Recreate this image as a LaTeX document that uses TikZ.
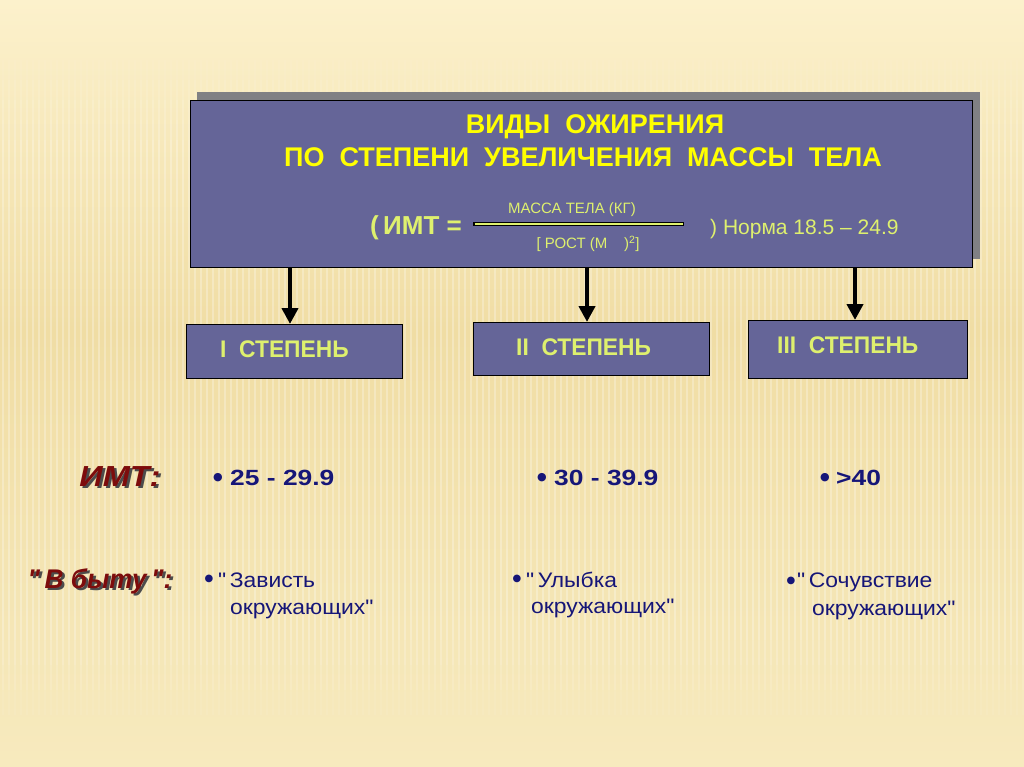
\documentclass[tikz,border=0pt]{standalone}
\usepackage{fontspec}
\setmainfont{Liberation Sans}
\newfontfamily\degfont{Liberation Sans}[FakeStretch=0.95]
\newfontfamily\valfont{Liberation Sans}[FakeStretch=1.2]
\newfontfamily\notefont{Liberation Sans}[FakeStretch=1.09]
\newfontfamily\imtfont{Liberation Sans}[FakeStretch=1.12]
\newfontfamily\bytfont{Liberation Sans}[FakeStretch=0.97]
\newfontfamily\symfont{DejaVu Sans}
\usetikzlibrary{arrows.meta}
\definecolor{bgtop}{RGB}{252,241,204}
\definecolor{bgmid}{RGB}{240,221,164}
\definecolor{bgbot}{RGB}{247,234,190}
\definecolor{boxfill}{RGB}{101,101,152}
\definecolor{shadowgray}{RGB}{128,128,132}
\definecolor{ttl}{RGB}{255,255,0}
\definecolor{lg}{RGB}{222,240,110}
\definecolor{dred}{RGB}{125,12,12}
\definecolor{navy}{RGB}{22,22,120}
\newcommand{\shadowtext}[1]{\makebox[0pt][l]{\hspace{2.5pt}\raisebox{-2pt}{\color{black!70}#1}}\color{dred}#1}
\tikzset{
  panel/.style={draw=black, line width=0.8pt, fill=boxfill, inner sep=0pt},
  degree/.style={font=\degfont\bfseries\fontsize{24}{27}\selectfont, text=lg, anchor=west, inner sep=0pt},
  arr/.style={line width=4.5pt, -{Triangle[length=16pt,width=16pt]}},
  bul/.style={font=\symfont\fontsize{11}{12}\selectfont, text=navy, inner sep=0pt},
  val/.style={font=\valfont\bfseries\fontsize{22}{26}\selectfont, text=navy, anchor=west, inner sep=0pt},
  note/.style={font=\notefont\fontsize{21}{24}\selectfont, text=navy, anchor=west, inner sep=0pt},
  ttlstyle/.style={font=\bfseries\fontsize{27}{30}\selectfont, text=ttl, inner sep=0pt}
}
\begin{document}
\begin{tikzpicture}[x=1pt,y=-1pt]
\useasboundingbox (0,0) rectangle (1024,767);
% background
\shade[top color=bgtop, bottom color=bgmid] (0,0) rectangle (1024,330);
\shade[top color=bgmid, bottom color=bgbot] (0,330) rectangle (1024,767);
\foreach \ya/\yb/\op in {60/80/0.05, 80/100/0.1, 100/120/0.16, 120/140/0.22, 140/640/0.27, 640/665/0.2, 665/690/0.13, 690/715/0.06} {
  \foreach \x in {3,9,...,1024} {\draw[white, opacity=\op, line width=2.2pt] (\x,\ya) -- (\x,\yb);}
}
% main panel
\fill[shadowgray] (197,92) rectangle (980,259);
\node[panel, minimum width=782pt, minimum height=167pt, anchor=north west] (main) at (190,100) {};
\node[ttlstyle] (t1) at (595,127) {ВИДЫ\ \ ОЖИРЕНИЯ};
\node[ttlstyle] (t2) at (583,157) {ПО\ \ СТЕПЕНИ\ \ УВЕЛИЧЕНИЯ\ \ МАССЫ\ \ ТЕЛА};
% formula
\node[font=\bfseries\fontsize{26}{28}\selectfont, text=lg, anchor=west, inner sep=0pt] (imt) at (370,228) {(\,ИМТ =};
\draw[black, line width=4pt] (473,224) -- (684,224);
\draw[lg, line width=1.6pt] (474.5,224) -- (682.5,224);
\node[font=\fontsize{15}{17}\selectfont, text=lg, inner sep=0pt] (num) at (572,210) {МАССА ТЕЛА (КГ)};
\node[font=\fontsize{15}{17}\selectfont, text=lg, inner sep=0pt] (den) at (588,244) {[ РОСТ (М\ \ \ \ )\textsuperscript{2}]};
\node[font=\fontsize{21}{24}\selectfont, text=lg, anchor=west, inner sep=0pt] (norm) at (710,229) {)\ Норма 18.5 – 24.9};
% degree boxes
\node[panel, minimum width=216pt, minimum height=54pt, anchor=north west] (b1) at (186,324) {};
\node[panel, minimum width=236pt, minimum height=53pt, anchor=north west] (b2) at (473,322) {};
\node[panel, minimum width=219pt, minimum height=58pt, anchor=north west] (b3) at (748,320) {};
\node[degree] (d1) at (220,349) {I\ \ СТЕПЕНЬ};
\node[degree] (d2) at (516,347) {II\ \ СТЕПЕНЬ};
\node[degree] (d3) at (777,345) {III\ \ СТЕПЕНЬ};
% arrows
\draw[arr] (main.south -| 290,0) -- (b1.north -| 290,0);
\draw[arr] (main.south -| 587,0) -- (b2.north -| 587,0);
\draw[arr] (main.south -| 855,0) -- (b3.north -| 855,0);
% labels
\node[font=\imtfont\bfseries\itshape\fontsize{29}{32}\selectfont, inner sep=0pt] (l1) at (120,478) {\shadowtext{ИМТ:}};
\node[font=\bytfont\bfseries\itshape\fontsize{27}{30}\selectfont, inner sep=0pt] (l2) at (100,582) {\shadowtext{"\,В быту\,":}};
% values
\node[bul] (p1) at (218,478) {●};
\node[val] (v1) at (230,478) {25 - 29.9};
\node[bul] (p2) at (542,478) {●};
\node[val] (v2) at (554,478) {30 - 39.9};
\node[bul] (p3) at (825,478) {●};
\node[val] (v3) at (836,478) {>40};
% notes
\node[bul, font=\symfont\fontsize{10}{12}\selectfont] (q1) at (209,579) {●};
\node[note] (n1a) at (218,580) {"\,Зависть};
\node[note] (n1b) at (230,609) {окружающих"};
\node[bul, font=\symfont\fontsize{10}{12}\selectfont] (q2) at (517,579) {●};
\node[note] (n2a) at (526,580) {"\,Улыбка};
\node[note] (n2b) at (531,608) {окружающих"};
\node[bul, font=\symfont\fontsize{10}{12}\selectfont] (q3) at (791,581) {●};
\node[note] (n3a) at (797,582) {"\,Сочувствие};
\node[note] (n3b) at (812,610) {окружающих"};
\end{tikzpicture}
\end{document}
